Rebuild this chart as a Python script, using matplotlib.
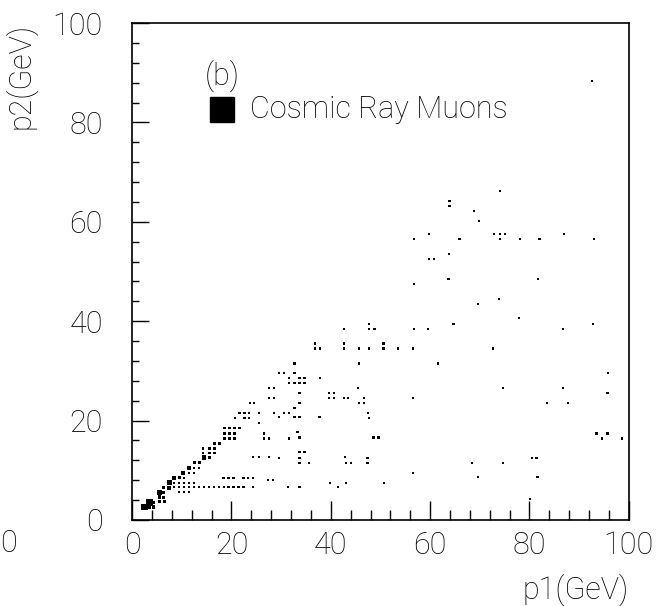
import matplotlib.pyplot as plt
from matplotlib.patches import Rectangle
from matplotlib.ticker import MultipleLocator

# bin contents: p1, p2, relative count
p1 = [2.5, 3.5, 4.3, 4.3, 3.5, 5.5, 5.5, 6.3, 6.3, 6.3, 7.5, 7.5, 8.5, 9.5, 10.3, 10.5,
      11.5, 12.5, 13.5, 12.5, 13.5, 11.5, 12.5,
      14.5, 15.6, 14.2, 15.6, 16.6, 14.2, 15.6, 16.6, 16.6, 17.6,
      18.6, 19.6, 20.6, 21.6, 18.6, 19.6, 20.6, 18.6, 19.6, 20.6,
      20.7, 21.6, 22.6, 23.6, 22.6, 23.6, 25.6, 25.6,
      23.7, 24.6, 27.6, 28.6, 27.6, 28.6,
      28.6, 29.6, 30.6, 31.6, 32.7, 33.7, 37.7,
      29.6, 30.6, 32.7, 31.6, 31.6, 32.7, 33.7, 34.7, 33.7, 34.7, 37.8, 33.7, 32.7,
      32.7, 33.7,
      26.6, 26.6, 27.6, 31.6, 33.7, 33.3,
      24.4, 25.6, 27.5, 29.6, 33.7,
      33.7, 34.7, 33.7, 35.6,
      8.5, 9.5, 10.5, 11.5, 12.5,
      8.5, 9.5, 10.5, 11.5, 12.5, 13.5, 14.5, 15.5, 16.5, 17.5,
      18.4, 19.4, 20.4, 22.4, 23.4, 24.4,
      18.5, 19.4, 20.4, 21.4, 22.4, 24.4,
      27.4, 28.3, 31.4, 33.7, 41.5, 39.9, 43.1, 50.7,
      9.5, 10.5, 11.5, 5.5, 6.5,
      47.7, 42.7, 47.7, 48.8, 36.8, 42.7, 50.6, 36.8, 37.8, 42.7, 45.7, 47.7, 50.6, 53.6,
      56.6, 45.7,
      45.5, 39.7, 40.7, 39.7, 40.7, 42.7, 43.5, 46.7, 56.6, 45.7, 46.7, 47.5, 47.7,
      48.6, 49.6, 42.8, 47.4, 43.0, 44.0, 47.4, 56.6,
      92.6, 74.0, 63.9, 63.9, 68.9, 69.8,
      56.8, 59.8, 65.9, 72.9, 74.0, 75.0, 74.0, 78.1, 82.0, 87.0, 93.0,
      59.8, 60.8, 63.8,
      56.8, 63.7, 81.7,
      73.9, 69.7, 77.9, 64.7, 92.8,
      56.8, 59.6, 86.8,
      72.7, 61.6, 95.8, 74.6, 86.7, 95.7, 83.6, 87.7,
      93.5, 95.7, 94.6, 98.7, 68.5, 74.6, 81.4, 80.5, 69.6, 81.6, 80.1]
p2 = [2.6, 3.5, 3.5, 2.6, 2.6, 5.5, 4.6, 4.6, 6.5, 5.5, 7.5, 6.5, 8.5, 8.5, 9.5, 8.5,
      10.5, 11.5, 11.5, 10.5, 10.5, 9.5, 9.5,
      12.6, 12.6, 13.5, 13.5, 13.5, 14.4, 14.4, 14.4, 15.4, 15.4,
      18.5, 18.5, 18.5, 18.5, 17.4, 17.4, 17.4, 16.4, 16.4, 16.4,
      20.5, 21.5, 21.5, 21.5, 20.5, 20.5, 21.5, 19.5,
      23.5, 23.5, 24.5, 24.5, 26.5, 26.5,
      21.5, 20.7, 21.5, 21.5, 20.7, 20.7, 20.7,
      29.5, 29.5, 29.5, 28.5, 27.5, 27.5, 27.5, 27.5, 28.5, 28.5, 28.5, 25.5, 31.5,
      22.5, 23.5,
      17.4, 16.4, 16.4, 16.4, 16.6, 17.7,
      12.6, 12.6, 12.6, 12.4, 12.4,
      13.6, 13.6, 11.5, 11.5,
      7.5, 7.5, 7.5, 7.5, 7.5,
      6.6, 6.6, 6.6, 6.6, 6.6, 6.6, 6.6, 6.6, 6.6, 6.6,
      8.5, 8.5, 8.5, 8.5, 8.5, 8.5,
      6.6, 6.6, 6.6, 6.6, 6.6, 6.6,
      8.0, 8.0, 6.6, 6.6, 6.6, 7.5, 7.5, 7.5,
      5.6, 5.6, 5.6, 3.7, 3.7,
      39.4, 38.4, 38.4, 38.4, 35.5, 35.5, 35.5, 34.5, 34.5, 34.5, 34.5, 34.5, 34.5, 34.5,
      34.5, 31.5,
      26.5, 25.5, 25.5, 24.5, 24.5, 24.5, 24.5, 24.5, 24.5, 23.5, 23.5, 21.5, 20.5,
      16.6, 16.6, 12.6, 12.4, 11.5, 11.5, 11.5, 9.5,
      88.4, 66.2, 64.2, 63.2, 62.1, 60.1,
      56.5, 57.5, 56.5, 57.5, 57.5, 57.5, 56.5, 56.5, 56.5, 57.5, 56.5,
      52.5, 52.5, 53.5,
      47.5, 48.5, 48.5,
      44.5, 43.5, 40.6, 39.4, 39.4,
      38.4, 38.4, 38.4,
      34.5, 31.5, 29.5, 26.5, 26.5, 25.5, 23.6, 23.6,
      17.4, 17.4, 16.4, 16.4, 11.5, 11.5, 12.5, 12.5, 8.7, 8.7, 4.2]
counts = [9, 8, 3, 2, 3, 6, 3, 2, 2, 2, 5, 3, 3, 2, 3, 1,
          3, 2, 2, 1, 1, 1, 1,
          4, 2] + [1] * 8 + [1] * 200

counts = counts[:len(p1)]

plt.rcParams['font.family'] = ['Roboto', 'DejaVu Sans']
fs = 22

fig = plt.figure(figsize=(6.64, 6.06), dpi=100)
ax = fig.add_axes([0.199, 0.142, 0.748, 0.820])

ax.scatter(p1, p2, s=[2.6 * c for c in counts], marker='s', color='black',
           linewidths=0)

ax.set_xlim(0, 100)
ax.set_ylim(0, 100)
ax.xaxis.set_major_locator(MultipleLocator(20))
ax.yaxis.set_major_locator(MultipleLocator(20))
ax.xaxis.set_minor_locator(MultipleLocator(4))
ax.yaxis.set_minor_locator(MultipleLocator(4))
ax.tick_params(axis='x', which='major', direction='in', length=14, width=1,
               pad=8, labelsize=fs)
ax.tick_params(axis='x', which='minor', direction='in', length=7, width=1)
ax.tick_params(axis='y', which='major', direction='in', length=12, width=1,
               pad=21, labelsize=fs)
ax.tick_params(axis='y', which='minor', direction='in', length=5, width=1)
for lab in ax.get_xticklabels() + ax.get_yticklabels():
    lab.set_fontweight('light')
for sp in ax.spines.values():
    sp.set_linewidth(1.2)

ax.set_xlabel("p1(GeV)", fontsize=fs, fontweight='light', loc='right',
              labelpad=10)
ax.set_ylabel("p2(GeV)", fontsize=fs, fontweight='light', loc='top',
              labelpad=12)

# legend entry of the original
ax.text(0.181, 0.893, "(b)", transform=ax.transAxes, fontsize=fs,
        fontweight='light', ha='center', va='center')
ax.add_patch(Rectangle((0.157, 0.80), 0.048, 0.052, transform=ax.transAxes,
                       color='black'))
ax.text(0.238, 0.826, "Cosmic Ray Muons", transform=ax.transAxes, fontsize=fs,
        fontweight='light', ha='left', va='center')

# stray label from the neighbouring panel in the scan
fig.text(8 / 664, 1 - 544 / 606, "0", fontsize=fs, fontweight='light',
         ha='center', va='center')

plt.savefig("out.png", dpi=100)
